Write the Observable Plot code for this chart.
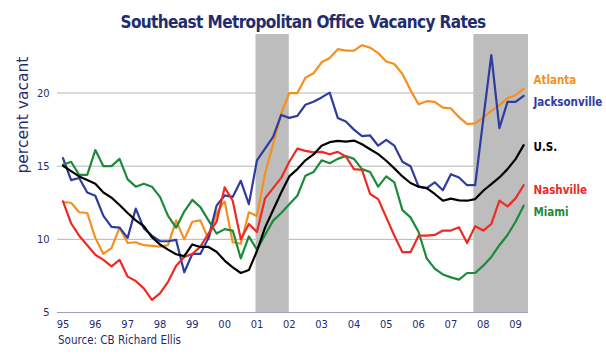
<!DOCTYPE html>
<html><head><meta charset="utf-8">
<script src="https://cdn.jsdelivr.net/npm/d3@7"></script>
<script src="https://cdn.jsdelivr.net/npm/@observablehq/plot@0.6"></script>
<style>
body{margin:0;background:#fff;}
#wrap{position:relative;width:606px;height:360px;overflow:hidden;font-family:"DejaVu Sans Condensed","DejaVu Sans",sans-serif;}
#title{position:absolute;left:0;top:14px;width:606px;text-align:center;font-weight:bold;font-size:17px;line-height:17px;letter-spacing:-0.6px;color:#1f2d6e;}
#chart{position:absolute;left:0;top:30px;}
#source{position:absolute;left:58px;top:333px;font-size:11.5px;color:#1f2d6e;}
</style></head><body>
<div id="wrap">
<div id="chart"></div>
<div id="title">Southeast Metropolitan Office Vacancy Rates</div>
<div id="source">Source: CB Richard Ellis</div>
</div>
<script>
// Quarterly office vacancy rates (%), 1995 Q1 through 2009 Q2
const firstYear = 1995;
const atlanta = [12.55,12.5,11.85,11.8,10.1,9.0,9.4,10.8,9.75,9.8,9.6,9.55,9.5,9.6,11.3,10.0,11.2,11.3,10.0,11.8,12.6,9.8,9.7,11.85,11.6,14.5,16.5,18.6,20.0,20.0,21.05,21.35,22.1,22.4,23.0,22.9,22.9,23.27,23.1,22.73,22.15,21.98,21.3,20.2,19.23,19.44,19.4,19.0,18.95,18.35,17.88,17.92,18.32,18.78,19.17,19.65,19.85,20.3];
const jacksonville = [15.55,14.05,14.19,13.2,12.98,11.6,10.85,10.8,10.1,12.1,10.75,10.25,9.87,9.87,9.96,7.75,9.0,9.0,10.1,12.3,13.0,12.9,14.0,12.4,15.4,16.2,17.0,18.5,18.3,18.44,19.2,19.4,19.7,20.03,18.3,18.05,17.5,17.05,17.1,16.4,16.8,16.4,15.3,15.0,13.6,13.5,13.9,13.35,14.45,14.23,13.7,13.7,18.2,22.6,17.6,19.4,19.4,19.8];
const nashville = [12.6,11.1,10.25,9.6,8.95,8.6,8.15,8.6,7.45,7.15,6.65,5.86,6.3,7.1,8.2,8.8,9.0,9.5,10.4,11.2,13.55,12.64,10.0,11.05,10.5,12.8,13.5,14.2,15.3,16.2,16.05,15.94,15.98,15.82,15.98,15.66,14.8,14.75,13.1,12.75,11.5,10.25,9.12,9.12,10.25,10.25,10.3,10.6,10.6,10.82,9.75,10.9,10.6,11.05,12.64,12.25,12.8,13.7];
const miami = [15.1,15.3,14.4,14.4,16.1,15.0,15.0,15.5,14.1,13.6,13.8,13.6,12.9,11.6,10.8,11.9,12.7,12.2,11.3,10.4,10.7,10.6,8.7,10.2,9.3,10.3,11.28,11.8,12.4,12.98,14.35,14.6,15.4,15.2,15.5,15.7,15.5,14.8,14.6,13.6,14.3,13.9,12.0,11.5,10.5,8.7,8.0,7.6,7.4,7.25,7.7,7.7,8.2,8.8,9.6,10.3,11.2,12.3];
const us = [15.03,14.66,14.3,14.05,13.8,13.2,12.85,12.35,11.8,11.3,10.9,10.15,9.65,9.3,8.98,8.85,9.65,9.48,9.48,9.15,8.55,8.09,7.7,7.9,9.2,10.8,12.0,13.2,14.3,14.8,15.4,15.8,16.39,16.64,16.73,16.68,16.75,16.5,16.16,15.82,15.37,14.85,14.3,13.85,13.6,13.5,13.1,12.64,12.78,12.66,12.64,12.75,13.32,13.78,14.23,14.8,15.48,16.44];
const seriesNames = ["Atlanta","Jacksonville","Miami","Nashville","U.S."];
const yearTicks = [1995,1996,1997,1998,1999,2000,2001,2002,2003,2004,2005,2006,2007,2008,2009];
const yTicks = [5,10,15,20];
const recessions = [{start:2000.97,end:2002.0},{start:2007.71,end:2009.4}];

const colors = {"Atlanta":"#f5901f","Jacksonville":"#2e3c9e","Miami":"#1d8a3a","Nashville":"#ee2a24","U.S.":"#000000"};
const valuesBy = {"Atlanta":atlanta,"Jacksonville":jacksonville,"Miami":miami,"Nashville":nashville,"U.S.":us};
const rows = [];
for (const name of seriesNames) valuesBy[name].forEach((v,i)=>rows.push({name, t:firstYear+i/4, v}));

const xDomain = [1994.83, 2009.4];
const labelPos = [
  {name:"Atlanta", y:20.86},
  {name:"Jacksonville", y:19.37},
  {name:"U.S.", y:16.3},
  {name:"Nashville", y:13.34},
  {name:"Miami", y:11.82}
];

const navy = "#1f2d6e";
const plot = Plot.plot({
  width: 606,
  height: 302,
  marginLeft: 57,
  marginRight: 78,
  marginTop: 4,
  marginBottom: 20,
  style: {fontFamily: '"DejaVu Sans Condensed","DejaVu Sans",sans-serif', fontSize: "11px", color: navy, background: "#fff", overflow: "visible"},
  x: {domain: xDomain, ticks: yearTicks, tickFormat: d => String(d).slice(2), tickSize: 0, tickPadding: 8, label: null},
  y: {domain: [5, 24], ticks: yTicks, tickSize: 0, tickPadding: 8, label: null},
  color: {type: "identity"},
  marks: [
    Plot.ruleY(yTicks.filter(d => d > 5), {stroke: "#b5b5b5", strokeWidth: 1}),
    Plot.rect(recessions, {x1: "start", x2: "end", y1: 5, y2: 24, fill: "#bdbdbd"}),
    Plot.ruleY([5], {stroke: "#9aa3b5", strokeWidth: 1}),
    Plot.line(rows, {x: "t", y: "v", z: "name", stroke: d => colors[d.name], strokeWidth: 2.2, curve: "linear"}),
    Plot.text(labelPos, {x: () => xDomain[1], y: "y", text: "name", fill: d => colors[d.name], textAnchor: "start", dx: 5, fontWeight: "bold", fontSize: 11.5, clip: false}),
    Plot.text(["percent vacant"], {frameAnchor: "left", dx: -34, rotate: -90, text: d => d, fill: navy, fontSize: 15.5, fontFamily: '"DejaVu Sans",sans-serif'})
  ]
});
document.getElementById("chart").appendChild(plot);
</script>
</body></html>
